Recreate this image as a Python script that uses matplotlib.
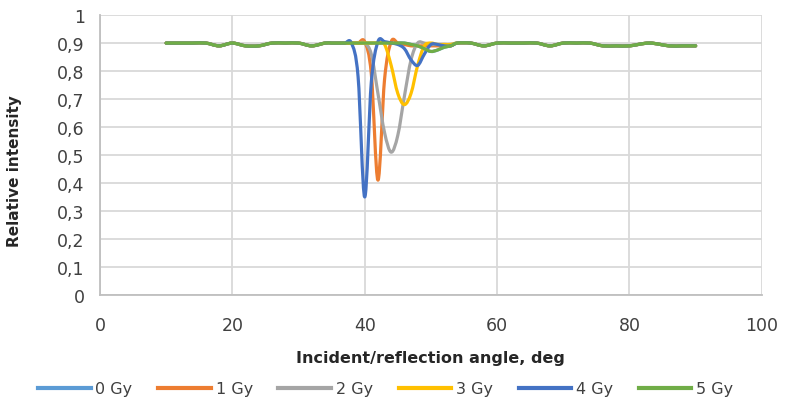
import matplotlib
matplotlib.use("Agg")
import matplotlib.pyplot as plt
from matplotlib.path import Path
from matplotlib.patches import PathPatch
from matplotlib.lines import Line2D

plt.rcParams['font.family'] = ['DejaVu Sans']

# data
labels = ['0 Gy', '1 Gy', '2 Gy', '3 Gy', '4 Gy', '5 Gy']
colors = ['#5B9BD5', '#ED7D31', '#A5A5A5', '#FFC000', '#4472C4', '#70AD47']

left_x = [10, 12, 14, 16, 18, 20, 22, 24, 26, 28, 30, 32, 34]
left_y = [0.90, 0.90, 0.90, 0.90, 0.89, 0.90, 0.89, 0.89, 0.90, 0.90, 0.90, 0.89, 0.90]
right_x = [54, 56, 58, 60, 62, 64, 66, 68, 70, 72, 74, 76, 78, 80, 83, 86, 88, 90]
right_y = [0.90, 0.90, 0.89, 0.90, 0.90, 0.90, 0.90, 0.89, 0.90, 0.90, 0.90, 0.89, 0.89, 0.89,
           0.90, 0.89, 0.89, 0.89]

dip_x = list(range(35, 54))
dip_0gy = [0.90, 0.90, 0.90, 0.90, 0.90, 0.90, 0.90, 0.90, 0.90, 0.90, 0.90, 0.90,
           0.895, 0.89, 0.88, 0.87, 0.875, 0.885, 0.89]
dip_1gy = [0.90, 0.90, 0.90, 0.90, 0.90, 0.905, 0.79, 0.41, 0.77, 0.905, 0.90, 0.895,
           0.89, 0.89, 0.89, 0.89, 0.89, 0.89, 0.89]
dip_2gy = [0.90, 0.90, 0.90, 0.90, 0.90, 0.90, 0.86, 0.72, 0.58, 0.51, 0.57, 0.71,
           0.84, 0.90, 0.90, 0.895, 0.895, 0.895, 0.895]
dip_3gy = [0.90, 0.90, 0.90, 0.90, 0.90, 0.90, 0.90, 0.90, 0.895, 0.82, 0.72, 0.68,
           0.72, 0.82, 0.89, 0.90, 0.895, 0.895, 0.895]
dip_4gy = [0.90, 0.90, 0.90, 0.90, 0.78, 0.35, 0.76, 0.905, 0.905, 0.90, 0.895, 0.88,
           0.84, 0.82, 0.86, 0.895, 0.895, 0.89, 0.89]
dip_5gy = [0.90, 0.90, 0.90, 0.90, 0.90, 0.90, 0.90, 0.90, 0.90, 0.90, 0.90, 0.90,
           0.895, 0.89, 0.88, 0.87, 0.875, 0.885, 0.89]
dips = [dip_0gy, dip_1gy, dip_2gy, dip_3gy, dip_4gy, dip_5gy]


def smooth_path(xs, ys):
    # Excel-like smoothed line: cubic bezier through the points
    pts = list(zip(xs, ys))
    n = len(pts)
    verts = [pts[0]]
    codes = [Path.MOVETO]
    for i in range(n - 1):
        p0 = pts[i - 1] if i > 0 else pts[i]
        p1 = pts[i]
        p2 = pts[i + 1]
        p3 = pts[i + 2] if i + 2 < n else pts[i + 1]
        c1 = (p1[0] + (p2[0] - p0[0]) / 6, p1[1] + (p2[1] - p0[1]) / 6)
        c2 = (p2[0] - (p3[0] - p1[0]) / 6, p2[1] - (p3[1] - p1[1]) / 6)
        verts += [c1, c2, p2]
        codes += [Path.CURVE4] * 3
    return Path(verts, codes)


fig = plt.figure(figsize=(7.87, 4.02), dpi=100)
ax = fig.add_axes([0.127, 0.264, 0.841, 0.696])

for dip, c in zip(dips, colors):
    xs = left_x + dip_x + right_x
    ys = left_y + dip + right_y
    ax.add_patch(PathPatch(smooth_path(xs, ys), fill=False, edgecolor=c,
                           linewidth=2.3, capstyle='round', joinstyle='round', zorder=3))

ax.set_xlim(0, 100)
ax.set_ylim(0, 1)
ax.set_xticks(range(0, 101, 20))
yt = [i / 10 for i in range(11)]
ax.set_yticks(yt)
ax.set_yticklabels(['0' if v == 0 else '1' if v == 1 else f'{v:.1f}'.replace('.', ',') for v in yt])
ax.tick_params(length=0, labelsize=12.5, colors='#404040')
ax.tick_params(axis='x', pad=15)
ax.tick_params(axis='y', pad=11)
ax.grid(True, color='#D9D9D9', linewidth=1.3)
ax.set_axisbelow(True)
for s in ['top', 'right']:
    ax.spines[s].set_visible(False)
for s in ['left', 'bottom']:
    ax.spines[s].set_color('#BFBFBF')
    ax.spines[s].set_linewidth(1.3)

ax.set_xlabel('Incident/reflection angle, deg', fontsize=11.5, fontweight='bold',
              color='#262626', labelpad=12)
ax.set_ylabel('Relative intensity', fontsize=11, fontweight='bold', color='#262626')
ax.yaxis.set_label_coords(-0.118, 0.446)

handles = [Line2D([], [], color=c, linewidth=3) for c in colors]
fig.legend(handles, labels, loc='center', bbox_to_anchor=(0.49, 0.03), ncol=6,
           frameon=False, fontsize=11.5, handlelength=3.3, handletextpad=0.3,
           columnspacing=1.6, labelcolor='#404040')

fig.savefig('out.png', dpi=100)
